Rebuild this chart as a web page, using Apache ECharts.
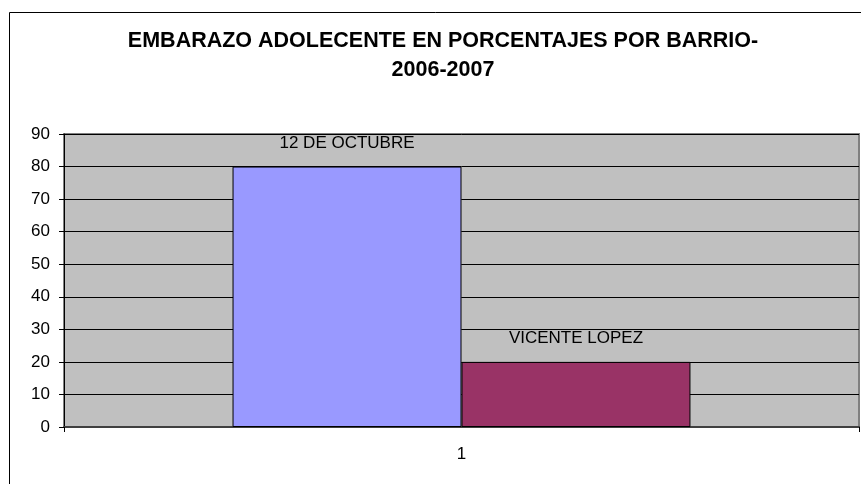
<!DOCTYPE html>
<html>
<head>
<meta charset="utf-8">
<script src="https://cdn.jsdelivr.net/npm/echarts@6/dist/echarts.min.js"></script>
<style>
  html, body { margin: 0; padding: 0; background: #fff; }
  #main { width: 861px; height: 484px; }
</style>
</head>
<body>
<div id="main"></div>
<script>
	// datos del grafico
	var categorias = ['1'];
	var barrios = ['12 DE OCTUBRE', 'VICENTE LOPEZ'];
	var porcentajes = [[80], [20]];
	var colores = ['#9999FF', '#993366'];
	var titulo = 'EMBARAZO ADOLECENTE EN PORCENTAJES POR BARRIO-\n2006-2007';

	var myChart = echarts.init(document.getElementById('main'));
	var series_data = [];

	for (var x = 0; x < barrios.length; x++) {
		series_data.push({
			name: barrios[x],
			type: 'bar',
			data: porcentajes[x],
			barGap: '0%',
			barCategoryGap: '42.4%',
			itemStyle: {
				color: colores[x],
				borderColor: '#000',
				borderWidth: 1
			},
			label: {
				show: true,
				position: 'top',
				distance: 15,
				formatter: '{a}',
				color: '#000',
				fontFamily: 'Arial, Liberation Sans, sans-serif',
				fontSize: 17
			}
		});
	}

	myChart.setOption({
		animation: false,
		title: {
			text: titulo,
			left: 438,
			textAlign: 'center',
			top: 22,
			textStyle: {
				fontFamily: 'Arial, Liberation Sans, sans-serif',
				fontWeight: 'bold',
				fontSize: 21.5,
				lineHeight: 28.5,
				color: '#000'
			}
		},
		graphic: [{
			type: 'rect',
			shape: { x: 9.5, y: 12.5, width: 900, height: 500 },
			style: { fill: 'none', stroke: '#000', lineWidth: 1 },
			silent: true
		}],
		grid: {
			left: 64,
			top: 134,
			right: 2,
			bottom: 57,
			show: true,
			backgroundColor: '#C0C0C0',
			borderColor: '#808080',
			borderWidth: 2
		},
		xAxis: [{
			type: 'category',
			data: categorias,
			axisLine: { lineStyle: { color: '#404040', width: 2 } },
			axisTick: { show: true, length: 5, lineStyle: { color: '#000' } },
			axisLabel: {
				margin: 19,
				color: '#000',
				fontFamily: 'Arial, Liberation Sans, sans-serif',
				fontSize: 17
			}
		}],
		yAxis: [{
			type: 'value',
			min: 0,
			max: 90,
			interval: 10,
			axisLine: { show: true, lineStyle: { color: '#000', width: 1 } },
			axisTick: { show: true, length: 5, lineStyle: { color: '#000' } },
			splitLine: { lineStyle: { color: '#000', width: 1 } },
			axisLabel: {
				margin: 14,
				color: '#000',
				fontFamily: 'Arial, Liberation Sans, sans-serif',
				fontSize: 17
			}
		}],
		series: series_data
	});
</script>
</body>
</html>
